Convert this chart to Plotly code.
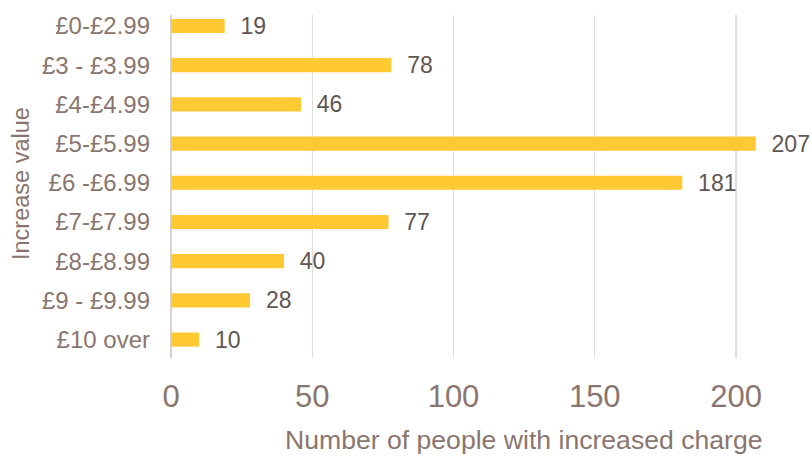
import plotly.graph_objects as go

categories = ["£0-£2.99", "£3 - £3.99", "£4-£4.99", "£5-£5.99", "£6 -£6.99",
              "£7-£7.99", "£8-£8.99", "£9 - £9.99", "£10 over"]
values = [19, 78, 46, 207, 181, 77, 40, 28, 10]
x_ticks = [0, 50, 100, 150, 200]
x_title = "Number of people with increased charge"
y_title = "Increase value"

FONT = "Liberation Sans, Arial, sans-serif"
TXT = "#8A766F"
LBL = "#5F5653"
BAR = "#FFC933"
GRID = "#E2DCDA"

fig = go.Figure()
fig.add_trace(go.Bar(
    x=values, y=categories, orientation="h",
    marker=dict(color=BAR, line=dict(width=0)),
    width=0.36,
    text=["  " + str(v) for v in values],
    textposition="outside",
    constraintext="none",
    textfont=dict(family=FONT, size=23, color=LBL),
    cliponaxis=False,
    hoverinfo="skip",
))

fig.update_layout(
    width=812, height=457,
    margin=dict(l=171, r=0, t=15, b=99, autoexpand=False),
    paper_bgcolor="white", plot_bgcolor="white",
    showlegend=False,
    font=dict(family=FONT, color=TXT),
    xaxis=dict(
        range=[0, 226.9], tickvals=x_ticks, ticktext=[str(t) for t in x_ticks],
        showgrid=True, gridcolor=GRID, gridwidth=1.3,
        zeroline=True, zerolinecolor="#DAD3D0", zerolinewidth=1.6,
        showline=False, ticks="", automargin=False,
        tickfont=dict(family=FONT, size=31, color=TXT),
        ticklabelstandoff=17,
    ),
    yaxis=dict(
        range=[8.47, -0.28], automargin=False,
        showgrid=False, zeroline=False, showline=False, ticks="",
        tickfont=dict(family=FONT, size=24, color=TXT),
        ticklabelstandoff=20,
    ),
    annotations=[
        dict(text=x_title, xref="paper", yref="paper",
             x=(523.5 - 171) / 641, y=(358 - 440) / 343,
             xanchor="center", yanchor="middle", showarrow=False,
             font=dict(family=FONT, size=26.6, color=TXT)),
        dict(text=y_title, xref="paper", yref="paper",
             x=(21 - 171) / 641, y=(358 - 184) / 343, textangle=-90,
             xanchor="center", yanchor="middle", showarrow=False,
             font=dict(family=FONT, size=23.5, color=TXT)),
    ],
)

# remove the page's default body margin so the figure fills the window exactly
fig.write_html(
    "out.html",
    config={"displayModeBar": False, "staticPlot": True},
    post_script="document.body.style.margin='0';document.body.style.overflow='hidden';",
)
